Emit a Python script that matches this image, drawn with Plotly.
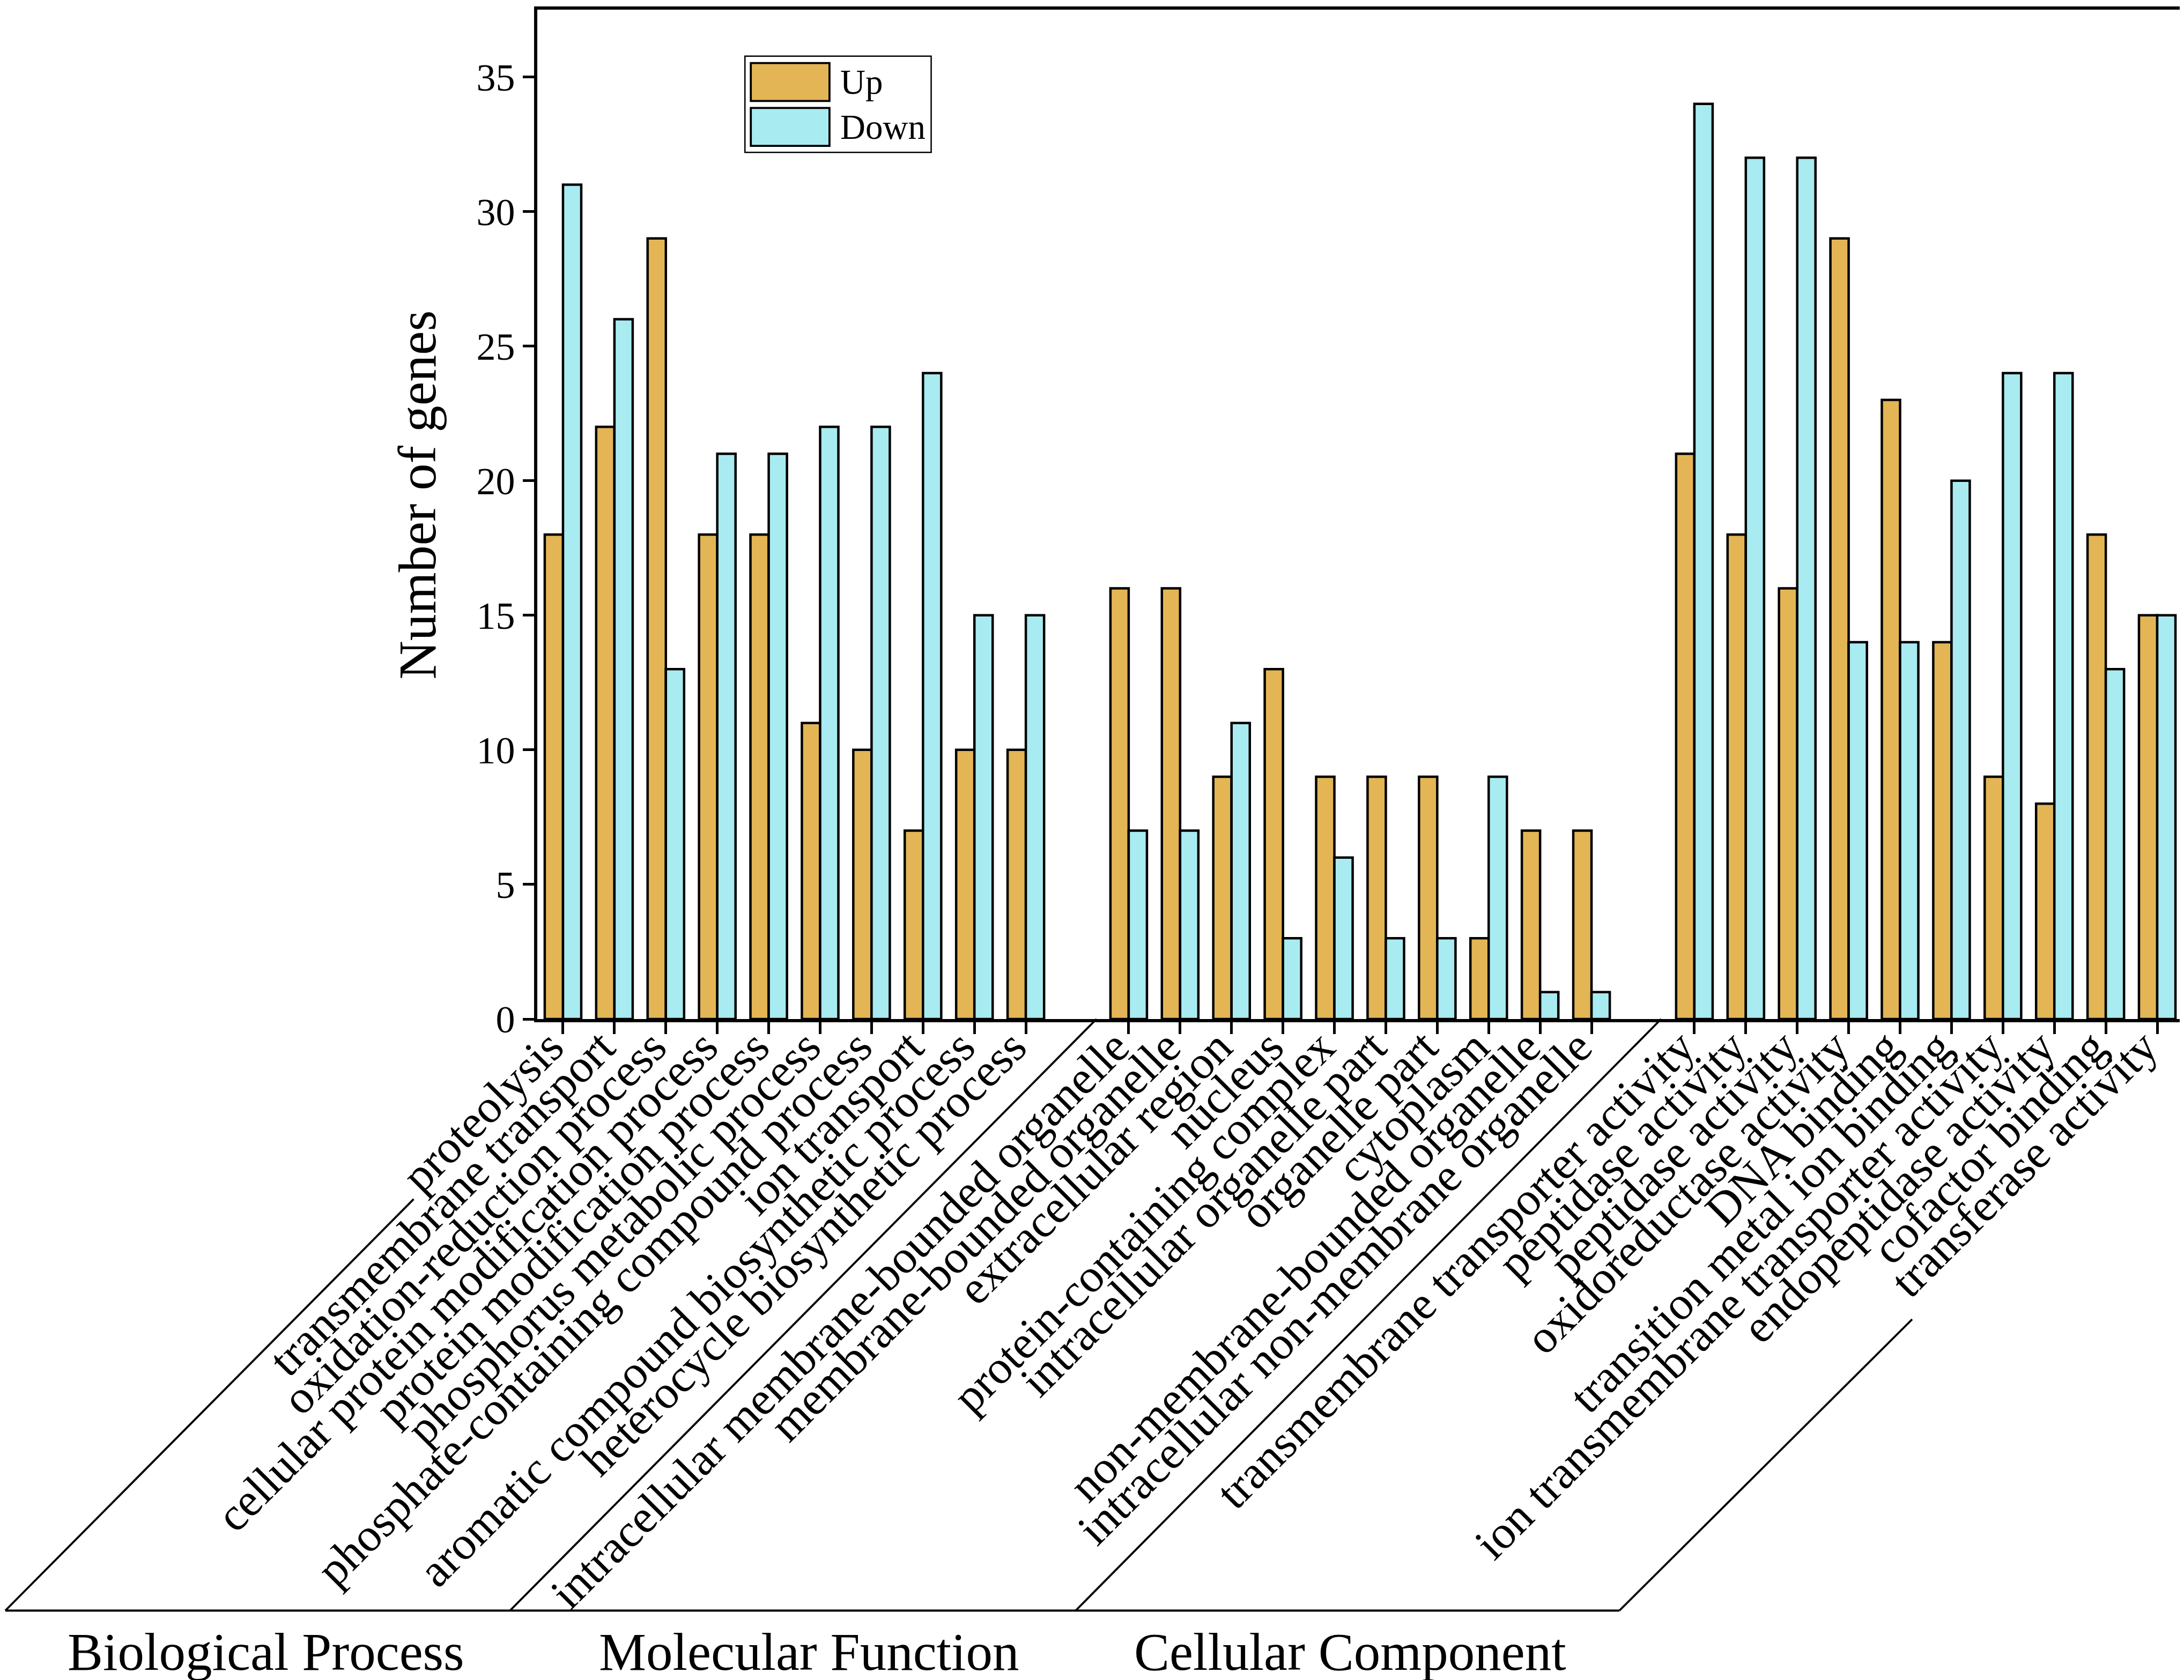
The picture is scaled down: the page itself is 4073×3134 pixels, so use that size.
import plotly.graph_objects as go

# ---------------- data ----------------
group_names = ["Biological Process", "Molecular Function", "Cellular Component"]
series_names = ["Up", "Down"]

bp_terms = ["proteolysis", "transmembrane transport", "oxidation-reduction process",
            "cellular protein modification process", "protein modification process",
            "phosphorus metabolic process", "phosphate-containing compound process",
            "ion transport", "aromatic compound biosynthetic process",
            "heterocycle biosynthetic process"]
bp_up = [18, 22, 29, 18, 18, 11, 10, 7, 10, 10]
bp_down = [31, 26, 13, 21, 21, 22, 22, 24, 15, 15]

mf_terms = ["intracellular membrane-bounded organelle", "membrane-bounded organelle",
            "extracellular region", "nucleus", "protein-containing complex",
            "intracellular organelle part", "organelle part", "cytoplasm",
            "non-membrane-bounded organelle", "intracellular non-membrane organelle"]
mf_up = [16, 16, 9, 13, 9, 9, 9, 3, 7, 7]
mf_down = [7, 7, 11, 3, 6, 3, 3, 9, 1, 1]

cc_terms = ["transmembrane transporter activity", "peptidase activity", "peptidase activity",
            "oxidoreductase activity", "DNA binding", "transition metal ion binding",
            "ion transmembrane transporter activity", "endopeptidase activity",
            "cofactor binding", "transferase activity"]
cc_up = [21, 18, 16, 29, 23, 14, 9, 8, 18, 15]
cc_down = [34, 32, 32, 14, 14, 20, 24, 24, 13, 15]

y_ticks = [0, 5, 10, 15, 20, 25, 30, 35]
y_title = "Number of genes"

# ---------------- layout constants (pixels) ----------------
W, H = 4073, 3134
L, R, T, B = 994, 4069, 4, 1893
FONT = "Liberation Serif"
UP_COLOR = "#E3B555"
DOWN_COLOR = "#A8EBF1"


def px(x):
    return (x - L) / (R - L)


def py(y):
    return (B - y) / (B - T)


groups = [bp_terms, mf_terms, cc_terms]
ups = [bp_up, mf_up, cc_up]
downs = [bp_down, mf_down, cc_down]

xs, labels, up_vals, down_vals = [], [], [], []
for g, terms in enumerate(groups):
    for i, t in enumerate(terms):
        xs.append(g * 11 + i)
        labels.append(t)
        up_vals.append(ups[g][i])
        down_vals.append(downs[g][i])

fig = go.Figure()
fig.add_bar(x=xs, y=up_vals, name=series_names[0], showlegend=False,
            marker=dict(color=UP_COLOR, line=dict(color="black", width=4.5)))
fig.add_bar(x=xs, y=down_vals, name=series_names[1], showlegend=False,
            marker=dict(color=DOWN_COLOR, line=dict(color="black", width=4.5)))

shapes = []
annotations = []

# diagonal separators and base line below the axis
seg_px = [
    ((0, 3000), (763, 2230)),
    ((943, 3000), (2039, 1893)),
    ((2000, 3000), (3094, 1893)),
    ((3016, 3000), (3563, 2455)),
    ((0, 3000), (3016, 3000)),
]
for (x0, y0), (x1, y1) in seg_px:
    shapes.append(dict(type="line", xref="paper", yref="paper",
                       x0=px(x0), y0=py(y0), x1=px(x1), y1=py(y1),
                       line=dict(color="black", width=3.8)))

# group labels
group_cx = [487, 1502, 2513]
for name, cx in zip(group_names, group_cx):
    annotations.append(dict(text=name, xref="paper", yref="paper",
                            x=px(cx), y=py(3077), xanchor="center", yanchor="middle",
                            showarrow=False, font=dict(family=FONT, size=99, color="black")))

# y axis title
annotations.append(dict(text=y_title, xref="paper", yref="paper", textangle=-90,
                        x=px(770), y=py(912), xanchor="center", yanchor="middle",
                        showarrow=False, font=dict(family=FONT, size=100, color="black")))

# custom legend
shapes.append(dict(type="rect", xref="paper", yref="paper",
                   x0=px(1382), y0=py(91), x1=px(1730), y1=py(271),
                   line=dict(color="black", width=2.5), fillcolor="white", layer="above"))
for name, color, (sy0, sy1) in zip(series_names, [UP_COLOR, DOWN_COLOR], [(104, 175), (188, 259)]):
    shapes.append(dict(type="rect", xref="paper", yref="paper",
                       x0=px(1393), y0=py(sy0), x1=px(1540), y1=py(sy1),
                       line=dict(color="black", width=3.8), fillcolor=color, layer="above"))
    annotations.append(dict(text=name, xref="paper", yref="paper",
                            x=px(1558), y=py((sy0 + sy1) / 2), xanchor="left", yanchor="middle",
                            showarrow=False, font=dict(family=FONT, size=65, color="black")))

fig.update_layout(
    width=W, height=H,
    margin=dict(l=L, r=W - R, t=T, b=H - B, pad=0),
    paper_bgcolor="white", plot_bgcolor="white",
    barmode="group", bargap=0.29, bargroupgap=0,
    font=dict(family=FONT, color="black"),
    shapes=shapes, annotations=annotations,
    showlegend=False,
)
fig.update_xaxes(
    range=[-0.5, 31.5], tickmode="array", tickvals=xs, ticktext=labels,
    tickangle=-45, ticks="outside", ticklen=22, tickwidth=4.6, tickcolor="black",
    ticklabelstandoff=-62, ticklabelshift=-25,
    showline=True, linewidth=6, linecolor="black", mirror=True,
    showgrid=False, zeroline=False,
    tickfont=dict(family=FONT, size=87, color="black"),
)
fig.update_yaxes(
    range=[0, 37.5], tickmode="array", tickvals=y_ticks,
    ticks="outside", ticklen=21, tickwidth=4.6, tickcolor="black",
    showline=True, linewidth=6, linecolor="black", mirror=True,
    showgrid=False, zeroline=False,
    tickfont=dict(family=FONT, size=72, color="black"),
)

fig.write_html("out.html")
